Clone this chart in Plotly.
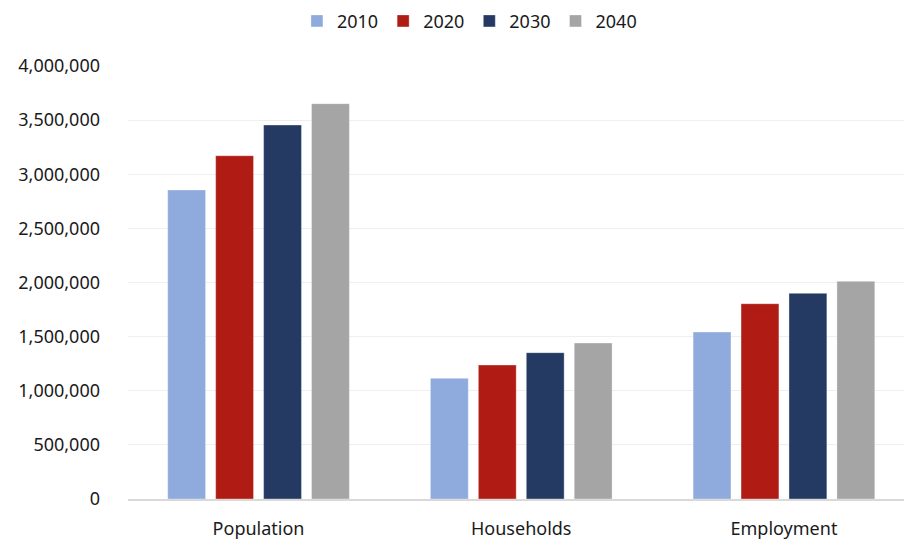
import plotly.graph_objects as go

categories = ["Population", "Households", "Employment"]
years = ["2010", "2020", "2030", "2040"]
values_2010 = [2855000, 1115000, 1543000]
values_2020 = [3171000, 1238000, 1804000]
values_2030 = [3455000, 1352000, 1900000]
values_2040 = [3652000, 1441000, 2011000]
series = [values_2010, values_2020, values_2030, values_2040]
colors = ["#8faadc", "#b01c13", "#243a63", "#a5a5a5"]
y_ticks = [0, 500000, 1000000, 1500000, 2000000, 2500000, 3000000, 3500000, 4000000]

FONT = "Noto Sans, Open Sans, sans-serif"

fig = go.Figure()
for name, vals, col in zip(years, series, colors):
    fig.add_trace(go.Bar(
        name=name, x=categories, y=vals,
        marker=dict(color=col, line=dict(color="rgba(255,255,255,0.35)", width=1)),
    ))

fig.update_layout(
    width=904, height=541,
    margin=dict(l=128, r=0, t=66, b=42),
    paper_bgcolor="white", plot_bgcolor="white",
    barmode="group", bargap=0.27, bargroupgap=0.21,
    font=dict(family=FONT, size=18, color="#1a1a1a"),
    legend=dict(orientation="h", x=0.44, xanchor="center", y=0.995, yanchor="top",
                yref="container", font=dict(size=18), itemwidth=30,
                traceorder="normal"),
    xaxis=dict(range=[-0.497, 2.457], showline=True, linecolor="#d9d9d9", linewidth=2,
               ticks="", tickfont=dict(size=18), showgrid=False, ticklabelstandoff=12),
    yaxis=dict(range=[0, 4000000], tickvals=y_ticks, tickformat=",d",
               showgrid=True, gridcolor="#efefef", gridwidth=1, zeroline=False,
               ticks="", ticklabelstandoff=27, tickfont=dict(size=18)),
)

fig.write_html("out.html")
